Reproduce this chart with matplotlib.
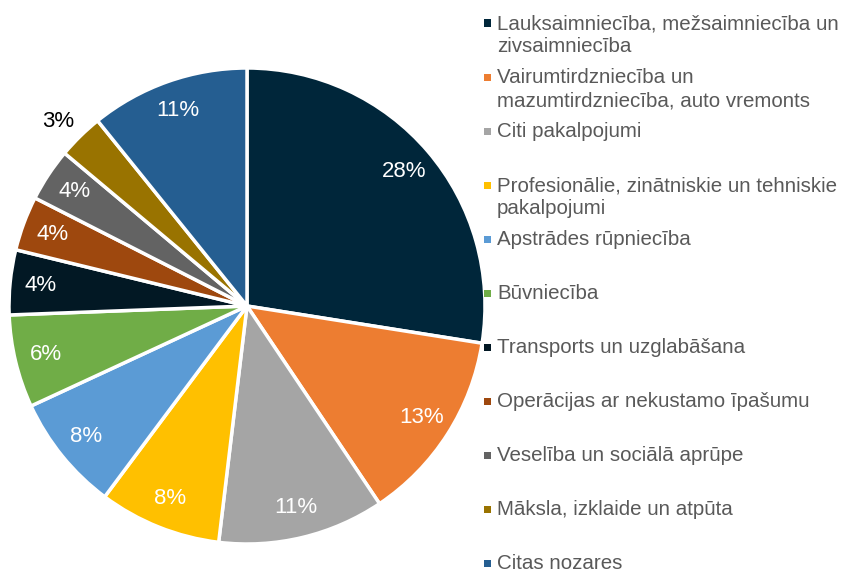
import matplotlib.pyplot as plt
from matplotlib.patches import Rectangle

plt.rcParams['font.family'] = ['Liberation Sans', 'DejaVu Sans']

# nozaru daļas (%), nolasītas no attēla
labels = [
    "Lauksaimniecība, mežsaimniecība un\nzivsaimniecība",
    "Vairumtirdzniecība un\nmazumtirdzniecība, auto vremonts",
    "Citi pakalpojumi",
    "Profesionālie, zinātniskie un tehniskie\npakalpojumi",
    "Apstrādes rūpniecība",
    "Būvniecība",
    "Transports un uzglabāšana",
    "Operācijas ar nekustamo īpašumu",
    "Veselība un sociālā aprūpe",
    "Māksla, izklaide un atpūta",
    "Citas nozares",
]
shares = [27.5, 13.1, 11.3, 8.3, 7.9, 6.3, 4.4, 3.7, 3.6, 3.1, 10.8]
colors = ["#00263A", "#ED7D31", "#A5A5A5", "#FFC000", "#5B9BD5", "#70AD47",
          "#021824", "#9E480E", "#636363", "#997300", "#255E91"]

W, H = 855, 574
fig = plt.figure(figsize=(W / 100, H / 100), dpi=100)

# pie axes: centre (247, 306), radius 238 px
cx, cy, r = 247, 306, 238
ax = fig.add_axes([(cx - r) / W, (H - cy - r) / H, 2 * r / W, 2 * r / H])
wedges, texts, autotexts = ax.pie(
    shares, colors=colors, startangle=90, counterclock=False,
    autopct='%.0f%%', pctdistance=0.87,
    wedgeprops=dict(edgecolor='white', linewidth=2.5),
    textprops=dict(color='white', fontsize=16),
)
ax.set_xlim(-1, 1)
ax.set_ylim(-1, 1)
ax.set_aspect('equal')
ax.axis('off')

# small slice label sits outside in black
autotexts[9].set_color('black')
x, y = autotexts[9].get_position()
autotexts[9].set_position((x * 1.3, y * 1.25))

# legend, one slot per entry
top, step = 23, 54
for i, (lab, c) in enumerate(zip(labels, colors)):
    yc = top + i * step
    fig.add_artist(Rectangle(((487 - 3.5) / W, (H - yc - 3.5) / H), 7 / W, 7 / H,
                             transform=fig.transFigure, color=c, lw=0))
    fig.text(497 / W, (H - yc + 9) / H, lab, fontsize=14.8, color='#595959',
             va='top', ha='left', linespacing=1.27)

fig.savefig('out.png', dpi=100)
